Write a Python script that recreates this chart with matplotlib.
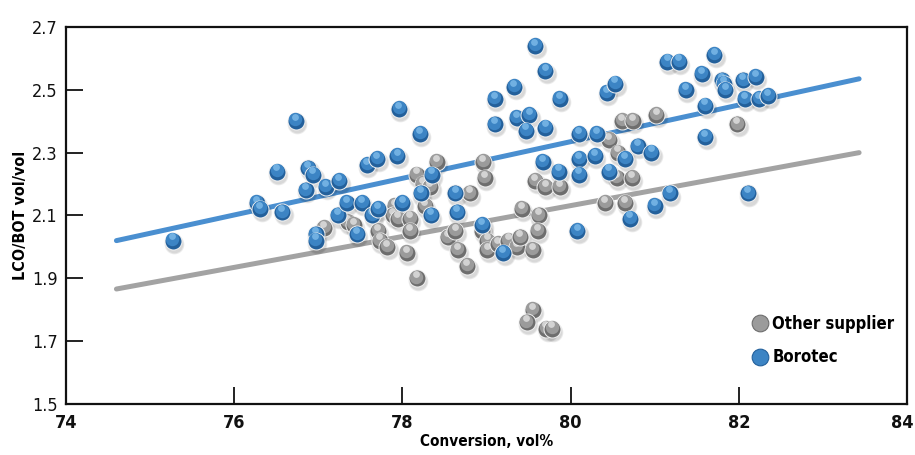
import numpy as np
import matplotlib
matplotlib.use('Agg')
import matplotlib.pyplot as plt
import matplotlib.transforms as mtransforms
from matplotlib.lines import Line2D


###===== DATA =====####

# Borotec samples (conversion vol%, LCO/BOT vol/vol)
borotec_x = [75.27, 76.27, 76.31, 76.51, 76.57, 76.73, 76.85, 76.88, 76.94, 76.97,
             76.97, 77.09, 77.23, 77.25, 77.34, 77.46, 77.52, 77.58, 77.64, 77.70,
             77.71, 77.94, 77.96, 78.00, 78.21, 78.22, 78.34, 78.35, 78.63, 78.65,
             78.95, 79.10, 79.10, 79.20, 79.33, 79.36, 79.51, 79.47, 79.58, 79.67,
             79.70, 79.70, 79.86, 79.87, 80.08, 80.10, 80.10, 80.10, 80.31, 80.29,
             80.43, 80.46, 80.53, 80.65, 80.71, 80.80, 80.96, 81.00, 81.15, 81.29,
             81.18, 81.37, 81.56, 81.60, 81.60, 81.71, 81.80, 81.82, 81.84, 82.05,
             82.20, 82.07, 82.24, 82.35, 82.11]
borotec_y = [2.02, 2.14, 2.12, 2.24, 2.11, 2.40, 2.18, 2.25, 2.23, 2.04,
             2.02, 2.19, 2.10, 2.21, 2.14, 2.04, 2.14, 2.26, 2.10, 2.28,
             2.12, 2.29, 2.44, 2.14, 2.36, 2.17, 2.10, 2.23, 2.17, 2.11,
             2.07, 2.47, 2.39, 1.98, 2.51, 2.41, 2.42, 2.37, 2.64, 2.27,
             2.56, 2.38, 2.24, 2.47, 2.05, 2.36, 2.28, 2.23, 2.36, 2.29,
             2.49, 2.24, 2.52, 2.28, 2.09, 2.32, 2.30, 2.13, 2.59, 2.59,
             2.17, 2.50, 2.55, 2.45, 2.35, 2.61, 2.53, 2.52, 2.50, 2.53,
             2.54, 2.47, 2.47, 2.48, 2.17]

# Other supplier samples
other_x = [77.07, 77.35, 77.42, 77.71, 77.73, 77.82, 77.91, 77.89, 77.95, 78.09,
           78.09, 78.05, 78.17, 78.17, 78.24, 78.41, 78.33, 78.27, 78.54, 78.63,
           78.66, 78.77, 78.80, 78.96, 78.98, 78.95, 79.01, 79.01, 79.14, 79.26,
           79.36, 79.40, 79.55, 79.42, 79.62, 79.61, 79.58, 79.70, 79.87, 79.55,
           79.48, 79.71, 79.78, 80.41, 80.65, 80.46, 80.56, 80.55, 80.73, 80.61,
           80.74, 81.02, 81.98]
other_y = [2.06, 2.08, 2.07, 2.05, 2.02, 2.00, 2.13, 2.10, 2.09, 2.09,
           2.05, 1.98, 1.90, 2.23, 2.20, 2.27, 2.19, 2.13, 2.03, 2.05,
           1.99, 1.94, 2.17, 2.27, 2.22, 2.05, 2.02, 1.99, 2.01, 2.02,
           2.00, 2.03, 1.99, 2.12, 2.10, 2.05, 2.21, 2.19, 2.19, 1.80,
           1.76, 1.74, 1.74, 2.14, 2.14, 2.34, 2.30, 2.22, 2.22, 2.40,
           2.40, 2.42, 2.39]

# Trend lines (end points)
fit_x = [74.6, 83.43]
fit_borotec = [2.02, 2.535]
fit_other = [1.866, 2.30]

x_ticks = [74, 76, 78, 80, 82, 84]
y_ticks = [1.5, 1.7, 1.9, 2.1, 2.3, 2.5, 2.7]

plt.rcParams['font.family'] = ['DejaVu Sans']
plt.rcParams['font.stretch'] = 'condensed'

BLUE = ('#23609b', '#3c84c4', '#78b6e6')
GRAY = ('#6e6e6e', '#9b9b9b', '#dadada')


#=== Sphere-like markers ===#
def spheres(ax, fig, xs, ys, cols, s=150):
    dark, mid, light = cols
    shadow = mtransforms.offset_copy(ax.transData, fig=fig, x=1.0, y=-2.2, units='points')
    ax.scatter(xs, ys, s=s * 1.35, color='k', alpha=0.08, lw=0, transform=shadow, zorder=3)
    ax.scatter(xs, ys, s=s * 1.1, color='k', alpha=0.08, lw=0, transform=shadow, zorder=3)
    up1 = mtransforms.offset_copy(ax.transData, fig=fig, x=-0.3, y=1.3, units='points')
    up2 = mtransforms.offset_copy(ax.transData, fig=fig, x=-0.6, y=3.0, units='points')
    for x, y in zip(xs, ys):
        ax.scatter([x], [y], s=s, color=dark, edgecolor='#f2f2f2', lw=0.7, zorder=4)
        ax.scatter([x], [y], s=s * 0.62, color=mid, lw=0, transform=up1, zorder=4)
        ax.scatter([x], [y], s=s * 0.16, color=light, lw=0, alpha=0.9, transform=up2, zorder=4)


fig = plt.figure(figsize=(9.15, 4.55), dpi=100)
ax = fig.add_axes([0.0721, 0.1121, 0.9192, 0.8286])

ax.plot(fit_x, fit_other, color='#a3a3a3', lw=3.6, solid_capstyle='round', zorder=2)
ax.plot(fit_x, fit_borotec, color='#4a8fd0', lw=3.6, solid_capstyle='round', zorder=2)

spheres(ax, fig, other_x, other_y, GRAY)
spheres(ax, fig, borotec_x, borotec_y, BLUE)

ax.set_xlim(74, 84)
ax.set_ylim(1.5, 2.7)
ax.set_xticks(x_ticks)
ax.set_yticks(y_ticks)
ax.set_xticklabels([str(t) for t in x_ticks], fontweight='bold')
ax.set_yticklabels(['%.1f' % t for t in y_ticks])
ax.tick_params(direction='in', length=12, width=1.3, labelsize=13, colors='#111111')
ax.tick_params(axis='x', pad=7)
ax.tick_params(axis='y', pad=6)
for sp in ax.spines.values():
    sp.set_linewidth(1.6)
    sp.set_color('#111111')

# last x label sits on the figure edge, pull it inside a bit
last = ax.get_xticklabels()[-1]
last.set_horizontalalignment('right')
last.set_transform(last.get_transform() + mtransforms.ScaledTranslation(5 / 72, 0, fig.dpi_scale_trans))

ax.set_xlabel('Conversion, vol%', fontsize=11, fontweight='bold', labelpad=2)
ax.set_ylabel('LCO/BOT vol/vol', fontsize=11.5, fontweight='bold', labelpad=3)

handles = [Line2D([], [], ls='', marker='o', markersize=12, markerfacecolor=GRAY[1],
                  markeredgecolor=GRAY[0], markeredgewidth=0.8, label='Other supplier'),
           Line2D([], [], ls='', marker='o', markersize=12, markerfacecolor=BLUE[1],
                  markeredgecolor=BLUE[0], markeredgewidth=0.8, label='Borotec')]
ax.legend(handles=handles, loc='lower left', bbox_to_anchor=(0.8, 0.06), frameon=False,
          prop={'size': 12, 'weight': 'bold', 'stretch': 'condensed'},
          handlelength=0.8, handletextpad=0.3, labelspacing=0.95)

fig.savefig('out.png', dpi=100)
